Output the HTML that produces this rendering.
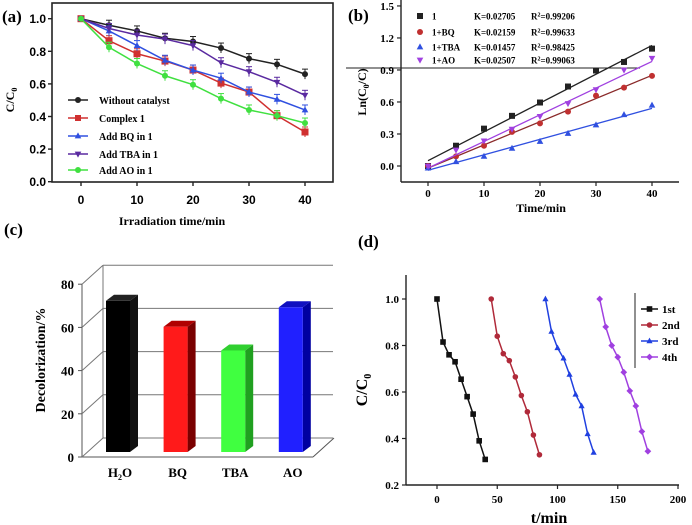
<!DOCTYPE html>
<html><head><meta charset="utf-8">
<style>
html,body{margin:0;padding:0;background:#fff;}
svg{display:block;}
.serif{font-family:"Liberation Serif",serif;font-weight:bold;}
.sans{font-family:"Liberation Sans",sans-serif;font-weight:bold;}
</style></head>
<body>
<svg id="fig" width="692" height="525" viewBox="0 0 692 525" xmlns="http://www.w3.org/2000/svg">
<g id="pa"></g>
<g id="pb"></g>
<g id="pc"></g>
<g id="pd"></g>
</svg>
<script>
// ---- Panel (a) data ----
const aTimes=[0,5,10,15,20,25,30,35,40];
const aWithout=[1,0.96,0.925,0.88,0.86,0.82,0.755,0.72,0.66];
const aComplex=[1,0.865,0.785,0.74,0.685,0.605,0.55,0.405,0.305];
const aBQ=[1,0.925,0.835,0.745,0.685,0.635,0.55,0.505,0.44];
const aTBA=[1,0.94,0.9,0.875,0.835,0.73,0.675,0.61,0.53];
const aAO=[1,0.825,0.725,0.65,0.595,0.51,0.44,0.405,0.36];
const aNames=["Without catalyst","Complex 1","Add BQ in 1","Add TBA in 1","Add AO in 1"];
const aXTicks=[0,10,20,30,40];
const aYTicks=["0.0","0.2","0.4","0.6","0.8","1.0"];
// ---- Panel (b) data ----
const bTimes=[0,5,10,15,20,25,30,35,40];
const b1=[0,0.19,0.35,0.47,0.595,0.745,0.895,0.975,1.1];
const bBQ=[0,0.09,0.19,0.32,0.4,0.51,0.66,0.735,0.845];
const bTBA=[-0.02,0.04,0.09,0.165,0.23,0.305,0.385,0.48,0.57];
const bAO=[0,0.15,0.235,0.345,0.465,0.585,0.715,0.9,1.01];
const bFitStart=[0.05,-0.02,-0.04,-0.02];
const bFitEnd=[1.13,0.85,0.54,0.98];
const bNames=["1","1+BQ","1+TBA","1+AO"];
const bK=["K=0.02705","K=0.02159","K=0.01457","K=0.02507"];
const bR=["0.99206","0.99633","0.98425","0.99063"];
const bXTicks=[0,10,20,30,40];
const bYTicks=["0.0","0.3","0.6","0.9","1.2","1.5"];
// ---- Panel (c) data ----
const cCats=["H2O","BQ","TBA","AO"];
const cValues=[70,58,47,67];
const cYTicks=[0,20,40,60,80];
// ---- Panel (d) data ----
const dRun1X=[0,5,10,15,20,25,30,35,40];
const dRun1=[1,0.815,0.76,0.73,0.655,0.58,0.505,0.39,0.31];
const dRun2X=[45,50,55,60,65,70,75,80,85];
const dRun2=[1,0.84,0.765,0.735,0.665,0.585,0.515,0.415,0.33];
const dRun3X=[90,95,100,105,110,115,120,125,130];
const dRun3=[1,0.86,0.79,0.745,0.675,0.59,0.54,0.42,0.34];
const dRun4X=[135,140,145,150,155,160,165,170,175];
const dRun4=[1,0.88,0.80,0.75,0.685,0.605,0.54,0.43,0.345];
const dNames=["1st","2nd","3rd","4th"];
const dXTicks=[0,50,100,150,200];
const dYTicks=[0.2,0.4,0.6,0.8,1.0];

const NS="http://www.w3.org/2000/svg";
function mk(tag,parent,attrs){const e=document.createElementNS(NS,tag);for(const k in attrs)e.setAttribute(k,attrs[k]);parent.appendChild(e);return e;}
function txt(parent,x,y,s,cls,size,anchor,extra){const t=mk('text',parent,Object.assign({x:x,y:y,'class':cls,'font-size':size,'text-anchor':anchor||'start'},extra||{}));t.textContent=s;return t;}
function marker(parent,shape,x,y,r,fill){
  let e;
  if(shape==='sq')e=mk('rect',parent,{x:x-r,y:y-r,width:2*r,height:2*r,fill:fill});
  else if(shape==='ci')e=mk('circle',parent,{cx:x,cy:y,r:r,fill:fill});
  else if(shape==='tu')e=mk('polygon',parent,{points:`${x},${y-r*1.2} ${x-r*1.1},${y+r*0.8} ${x+r*1.1},${y+r*0.8}`,fill:fill});
  else if(shape==='td')e=mk('polygon',parent,{points:`${x},${y+r*1.2} ${x-r*1.1},${y-r*0.8} ${x+r*1.1},${y-r*0.8}`,fill:fill});
  else e=mk('polygon',parent,{points:`${x},${y-r*1.2} ${x+r*1.2},${y} ${x},${y+r*1.2} ${x-r*1.2},${y}`,fill:fill});
  return e;
}

// ===== Panel A =====
(function(){
const g=document.getElementById('pa');
const X=v=>81+v*(305-81)/40, Y=v=>181.7-v*163;
const f=mk('rect',g,{x:52,y:3,width:281,height:179,fill:'none',stroke:'#222','stroke-width':1.6});


aYTicks.forEach(s=>{const v=parseFloat(s);mk('line',g,{x1:52,x2:48,y1:Y(v),y2:Y(v),stroke:'#222','stroke-width':1.4});
  const t=txt(g,46,Y(v)+4.5,s,'sans',12,'end');
  
  });
aXTicks.forEach(v=>{mk('line',g,{x1:X(v),x2:X(v),y1:182,y2:186,stroke:'#222','stroke-width':1.4});
  const t=txt(g,X(v),204,String(v),'sans',12,'middle');
  
  });
const xt=txt(g,172,225,'Irradiation time/min','serif',12,'middle');


const yt=txt(g,0,0,'C/C','serif',12,'middle',{transform:'translate(14,100) rotate(-90)'});
const sub=mk('tspan',yt,{'font-size':8,dy:3});sub.textContent='0';


const lab=txt(g,2,22,'(a)','serif',17,'start');


const series=[aWithout,aComplex,aBQ,aTBA,aAO];
const cols=['#222','#d03030','#3050e0','#5a2aa0','#40e040'];
const shapes=['ci','sq','tu','td','ci'];
series.forEach((d,i)=>{
  const pts=d.map((v,j)=>X(aTimes[j])+','+Y(v)).join(' ');
  const pl=mk('polyline',g,{points:pts,fill:'none',stroke:cols[i],'stroke-width':1.5});
  
  
  d.forEach((v,j)=>{
    if(j>0){mk('line',g,{x1:X(aTimes[j]),x2:X(aTimes[j]),y1:Y(v)-5,y2:Y(v)+5,stroke:cols[i],'stroke-width':1});
      mk('line',g,{x1:X(aTimes[j])-3,x2:X(aTimes[j])+3,y1:Y(v)-5,y2:Y(v)-5,stroke:cols[i],'stroke-width':1});}
    const m=marker(g,shapes[i],X(aTimes[j]),Y(v),shapes[i]==='sq'?3.5:3,cols[i]);
    
    
  });
  const ly=[100,118,136,154,170][i];
  mk('line',g,{x1:68,x2:88,y1:ly,y2:ly,stroke:cols[i],'stroke-width':1.5});
  marker(g,shapes[i],78,ly,3,cols[i]);
  const lt=txt(g,99,ly+4,aNames[i],'serif',10,'start');
  
  
});
})();

// ===== Panel B =====
(function(){
const g=document.getElementById('pb');
const X=v=>428+v*(652-428)/40, Y=v=>166-v*106.7;
mk('line',g,{x1:401,x2:401,y1:0,y2:182,stroke:'#222','stroke-width':1.4});
mk('line',g,{x1:401,x2:679,y1:182,y2:182,stroke:'#222','stroke-width':1.4});
mk('line',g,{x1:346,x2:640,y1:68,y2:68,stroke:'#222','stroke-width':1});
bYTicks.forEach(s=>{const v=parseFloat(s);mk('line',g,{x1:401,x2:397,y1:Y(v),y2:Y(v),stroke:'#222','stroke-width':1.2});
  const t=txt(g,394,Y(v)+4,s,'serif',11,'end');
  
  });
bXTicks.forEach(v=>{mk('line',g,{x1:X(v),x2:X(v),y1:182,y2:186,stroke:'#222','stroke-width':1.2});
  const t=txt(g,X(v),197,String(v),'serif',11,'middle');
  
  });
const xt=txt(g,541,212,'Time/min','serif',12,'middle');


const yt=txt(g,0,0,'Ln(C','serif',12,'middle',{transform:'translate(366,92) rotate(-90)'});
const s1=mk('tspan',yt,{'font-size':8,dy:3});s1.textContent='0';
const s2=mk('tspan',yt,{dy:-3});s2.textContent='/C)';


const lab=txt(g,348,21,'(b)','serif',17,'start');


const series=[b1,bBQ,bTBA,bAO];
const cols=['#222','#c03030','#3050e0','#a040e0'];
const fitCols=['#222','#8a2a2a','#3050e0','#a040e0'];
const shapes=['sq','ci','tu','td'];
series.forEach((d,i)=>{
  const fl=mk('line',g,{x1:X(0),y1:Y(bFitStart[i]),x2:X(40),y2:Y(bFitEnd[i]),stroke:fitCols[i],'stroke-width':1.3});
  
  
  d.forEach((v,j)=>{const m=marker(g,shapes[i],X(bTimes[j]),Y(v),3,cols[i]);
    
    });
  const ly=[16,32,47,60][i];
  marker(g,shapes[i],420,ly,3,cols[i]);
  const lt=txt(g,432,ly+3.5,bNames[i],'serif',9,'start');
  
  
  const kt=txt(g,474,ly+3.5,bK[i],'serif',9,'start');
  
  
  const rt=txt(g,531,ly+3.5,'R','serif',9,'start');
  const sp=mk('tspan',rt,{'font-size':6,dy:-3});sp.textContent='2';
  const sp2=mk('tspan',rt,{dy:3});sp2.textContent='='+bR[i];
  
  
});
})();

// ===== Panel C =====
(function(){
const g=document.getElementById('pc');
const Yt=v=>457-v*2.16, Yb=v=>452-v*2.16;
const dx=21, dy=-19;
mk('line',g,{x1:82,x2:82,y1:Yt(80),y2:457,stroke:'#555','stroke-width':1});
mk('line',g,{x1:82,x2:313,y1:457,y2:457,stroke:'#555','stroke-width':1});
mk('line',g,{x1:313,x2:313+dx,y1:457,y2:457+dy,stroke:'#555','stroke-width':1});
mk('line',g,{x1:82+dx,x2:82+dx,y1:Yt(80)+dy,y2:457+dy,stroke:'#777','stroke-width':1});
cYTicks.forEach(v=>{
  mk('line',g,{x1:82,x2:82+dx,y1:Yt(v),y2:Yt(v)+dy,stroke:'#777','stroke-width':1});
  const gl=mk('line',g,{x1:82+dx,x2:333,y1:Yt(v)+dy,y2:Yt(v)+dy,stroke:'#777','stroke-width':1});
  
  
  mk('line',g,{x1:78,x2:82,y1:Yt(v),y2:Yt(v),stroke:'#555','stroke-width':1});
  const t=txt(g,74,Yt(v)+5,String(v),'serif',13,'end');
  
  
});
const yt=txt(g,0,0,'Decolorization/%','serif',14,'middle',{transform:'translate(45,360) rotate(-90)'});


const lab=txt(g,4,235,'(c)','serif',17,'start');


const front=['#000','#ff1a1a','#40ff40','#2020ff'];
const side=['#111','#7a0000','#20a020','#0000a0'];
const top=['#222','#b00000','#30d030','#1010c0'];
cCats.forEach((c,i)=>{
  const x0=106+i*57.6, w=24, bx=8, by=-6;
  const yT=Yb(cValues[i]);
  const sd=mk('polygon',g,{points:`${x0+w},${yT} ${x0+w+bx},${yT+by} ${x0+w+bx},${452+by} ${x0+w},452`,fill:side[i]});
  
  
  const tp=mk('polygon',g,{points:`${x0},${yT} ${x0+bx},${yT+by} ${x0+w+bx},${yT+by} ${x0+w},${yT}`,fill:top[i]});
  
  
  const r=mk('rect',g,{x:x0,y:yT,width:w,height:452-yT,fill:front[i]});
  
  
  const t=txt(g,x0+w/2+2,477,c==='H2O'?'H':c,'serif',13,'middle');
  if(c==='H2O'){const a=mk('tspan',t,{'font-size':8,dy:3});a.textContent='2';const b=mk('tspan',t,{dy:-3});b.textContent='O';}
  
  
});
})();

// ===== Panel D =====
(function(){
const g=document.getElementById('pd');
const X=v=>437+v*(678-437)/200, Y=v=>485-(v-0.2)*232.5;
mk('line',g,{x1:406,x2:406,y1:275,y2:485,stroke:'#222','stroke-width':1.4});
mk('line',g,{x1:406,x2:679,y1:485,y2:485,stroke:'#222','stroke-width':1.4});
dYTicks.forEach(v=>{mk('line',g,{x1:406,x2:402,y1:Y(v),y2:Y(v),stroke:'#222','stroke-width':1.2});
  const t=txt(g,399,Y(v)+4,v.toFixed(1),'serif',11,'end');
  
  });
dXTicks.forEach(v=>{mk('line',g,{x1:X(v),x2:X(v),y1:485,y2:489,stroke:'#222','stroke-width':1.2});
  const t=txt(g,X(v),503,String(v),'serif',11,'middle');
  
  });
const xt=txt(g,549,523,'t/min','serif',16,'middle');


const yt=txt(g,0,0,'C/C','serif',16,'middle',{transform:'translate(367,390) rotate(-90)'});
const sb=mk('tspan',yt,{'font-size':10,dy:4});sb.textContent='0';


const lab=txt(g,358,247,'(d)','serif',17,'start');


mk('line',g,{x1:635,x2:635,y1:293,y2:368,stroke:'#222','stroke-width':1});
const xs=[dRun1X,dRun2X,dRun3X,dRun4X], ys=[dRun1,dRun2,dRun3,dRun4];
const cols=['#111','#b02a3a','#2040e0','#a040e0'];
const shapes=['sq','ci','tu','di'];
ys.forEach((d,i)=>{
  const pl=mk('polyline',g,{points:d.map((v,j)=>X(xs[i][j])+','+Y(v)).join(' '),fill:'none',stroke:cols[i],'stroke-width':1.5});
  
  
  d.forEach((v,j)=>{const m=marker(g,shapes[i],X(xs[i][j]),Y(v),2.8,cols[i]);
    
    });
  const ly=[309,325,341,357][i];
  mk('line',g,{x1:641,x2:658,y1:ly,y2:ly,stroke:cols[i],'stroke-width':1.5});
  marker(g,shapes[i],649.5,ly,2.8,cols[i]);
  const lt=txt(g,662,ly+4,dNames[i],'serif',11,'start');
  
  
});
})();
</script>
</body></html>
